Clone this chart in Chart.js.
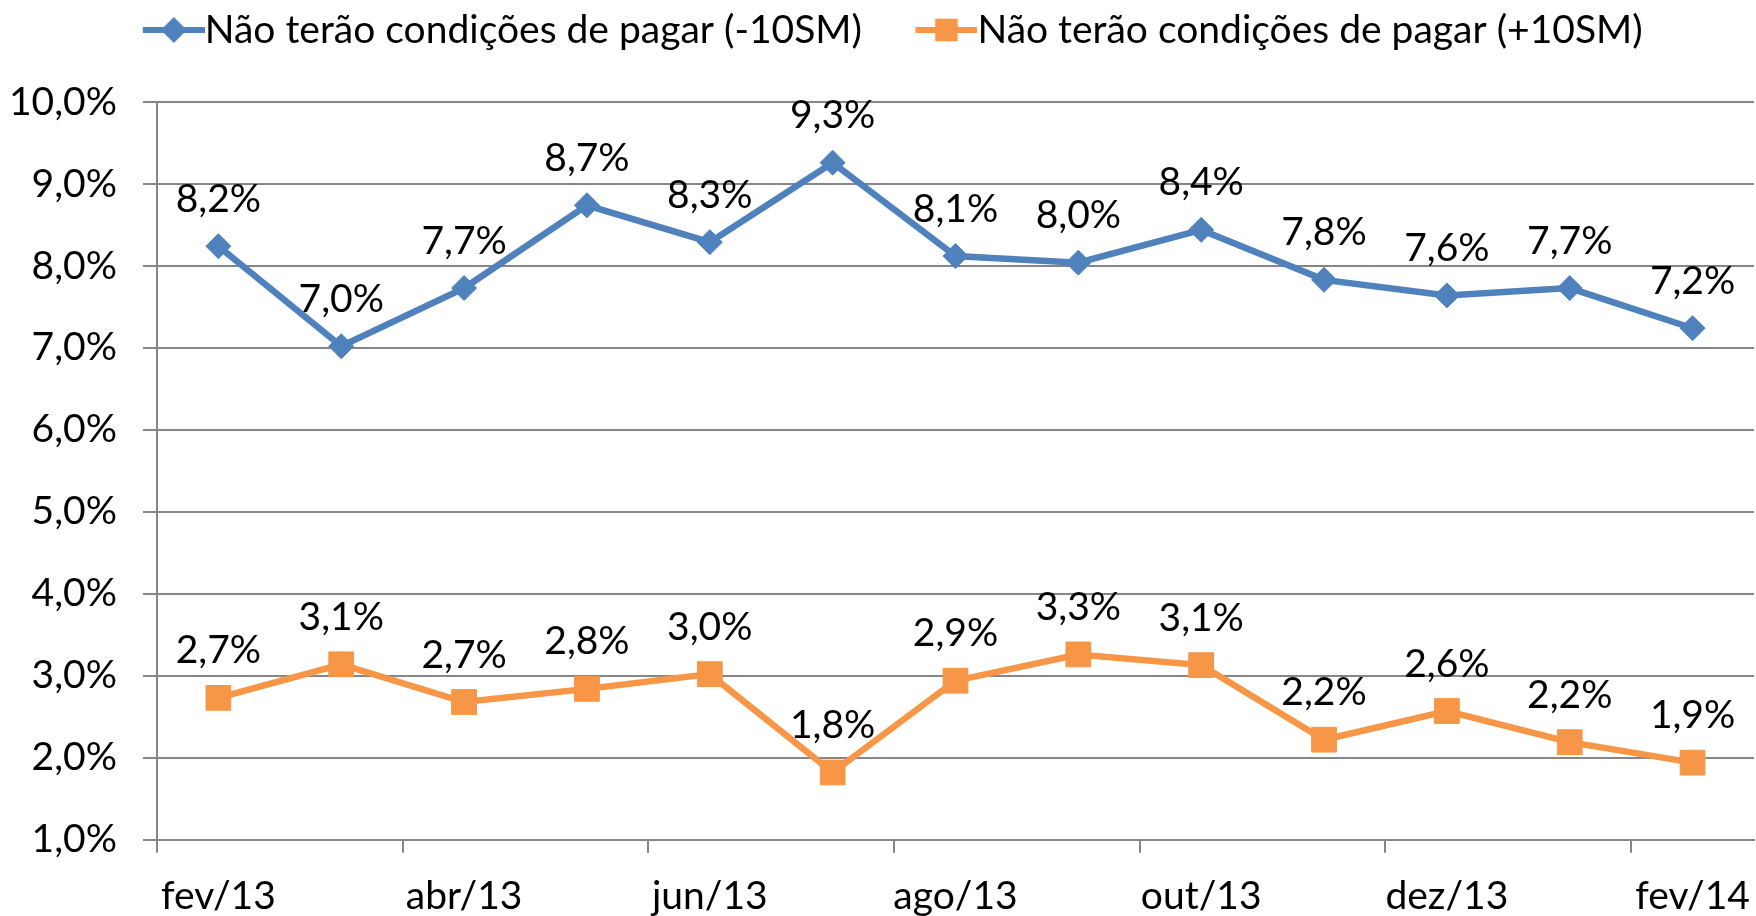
<!DOCTYPE html>
<html><head><meta charset="utf-8">
<script src="https://cdn.jsdelivr.net/npm/chart.js@4/dist/chart.umd.min.js"></script>
<style>html,body{margin:0;padding:0;background:#fff}#wrap{width:1756px;height:916px;position:relative}</style>
</head><body><div id="wrap"><canvas id="c"></canvas></div>
<script>
const categories = ['fev/13','mar/13','abr/13','mai/13','jun/13','jul/13','ago/13','set/13','out/13','nov/13','dez/13','jan/14','fev/14'];
const seriesNames = ['Não terão condições de pagar (-10SM)','Não terão condições de pagar (+10SM)'];
const below10SM = [8.24,7.02,7.73,8.74,8.29,9.26,8.12,8.04,8.44,7.83,7.64,7.73,7.24];
const above10SM = [2.73,3.14,2.68,2.84,3.02,1.82,2.94,3.26,3.13,2.22,2.57,2.19,1.94];
const yMin = 1, yMax = 10, yStep = 1;

const BLUE = '#4F81BD', ORANGE = '#F79646', GRID = '#868686';
const FONT = 'Lato';
const FS = 39;
const fmt = v => v.toFixed(1).replace('.', ',') + '%';

const BOXW = 64;
function legendIcon(color, style, radius) {
  const c = document.createElement('canvas');
  const W = BOXW + FS;
  c.width = W; c.height = 30;
  const g = c.getContext('2d');
  g.strokeStyle = color; g.lineWidth = 6;
  g.beginPath(); g.moveTo(W - 62, 15); g.lineTo(W, 15); g.stroke();
  g.fillStyle = color; g.strokeStyle = color;
  Chart.helpers.drawPoint(g, {pointStyle: style, radius: radius, borderWidth: 0, rotation: 0}, W - 31, 15);
  return c;
}

const valueLabels = {
  id: 'valueLabels',
  afterDatasetsDraw(chart) {
    const ctx = chart.ctx;
    ctx.save();
    ctx.font = FS + 'px ' + FONT;
    ctx.fillStyle = '#000';
    ctx.textAlign = 'center';
    ctx.textBaseline = 'middle';
    chart.data.datasets.forEach((ds, i) => {
      chart.getDatasetMeta(i).data.forEach((pt, j) => {
        ctx.fillText(fmt(ds.data[j]), pt.x, pt.y - 47);
      });
    });
    ctx.restore();
  }
};

const icons = [legendIcon(BLUE, 'rectRot', 13), legendIcon(ORANGE, 'rect', 16)];

new Chart(document.getElementById('c'), {
  type: 'line',
  data: {
    labels: categories,
    datasets: [
      {label: seriesNames[0], data: below10SM, borderColor: BLUE, backgroundColor: BLUE, borderWidth: 6.5,
       pointStyle: 'rectRot', pointRadius: 12.5, pointBorderWidth: 1, pointBackgroundColor: BLUE, pointBorderColor: BLUE, tension: 0},
      {label: seriesNames[1], data: above10SM, borderColor: ORANGE, backgroundColor: ORANGE, borderWidth: 6.5,
       pointStyle: 'rect', pointRadius: 17.5, pointBorderWidth: 1, pointBackgroundColor: ORANGE, pointBorderColor: ORANGE, tension: 0}
    ]
  },
  options: {
    responsive: true,
    maintainAspectRatio: false,
    animation: false,
    layout: {autoPadding: false, padding: {top: -21.5, left: -17, right: -25, bottom: -23.5}},
    plugins: {
      tooltip: {enabled: false},
      subtitle: {display: true, text: '', weight: 500, position: 'top', font: {size: 10}, padding: {top: 0, bottom: 30.5}},
      legend: {
        position: 'top',
        labels: {
          usePointStyle: true,
          pointStyleWidth: BOXW,
          padding: 32,
          color: '#000',
          font: {family: FONT, size: FS},
          generateLabels(chart) {
            return chart.data.datasets.map((ds, i) => ({
              text: ds.label, pointStyle: icons[i], fillStyle: ds.borderColor, strokeStyle: ds.borderColor,
              lineWidth: 0, hidden: false, datasetIndex: i, fontColor: '#000'
            }));
          }
        }
      }
    },
    scales: {
      x: {
        offset: true,
        afterFit: s => { s.paddingRight = 2; },
        grid: {
          display: true, drawOnChartArea: false, drawTicks: true, tickLength: 13, offset: true,
          color: c => (c.index % 2 === 0 ? GRID : 'rgba(0,0,0,0)'), lineWidth: 2
        },
        border: {display: true, color: GRID, width: 2},
        ticks: {
          autoSkip: false, maxRotation: 0, padding: 20, color: '#000',
          font: {family: FONT, size: FS},
          callback: (v, i) => (i % 2 === 0 ? categories[i] : '')
        }
      },
      y: {
        min: yMin, max: yMax,
        grid: {color: GRID, lineWidth: 2, tickLength: 14},
        border: {display: true, color: GRID, width: 2},
        ticks: {
          stepSize: yStep, padding: 26, color: '#000',
          font: {family: FONT, size: FS},
          callback: v => fmt(v)
        }
      }
    }
  },
  plugins: [valueLabels]
});
</script>
</body></html>
